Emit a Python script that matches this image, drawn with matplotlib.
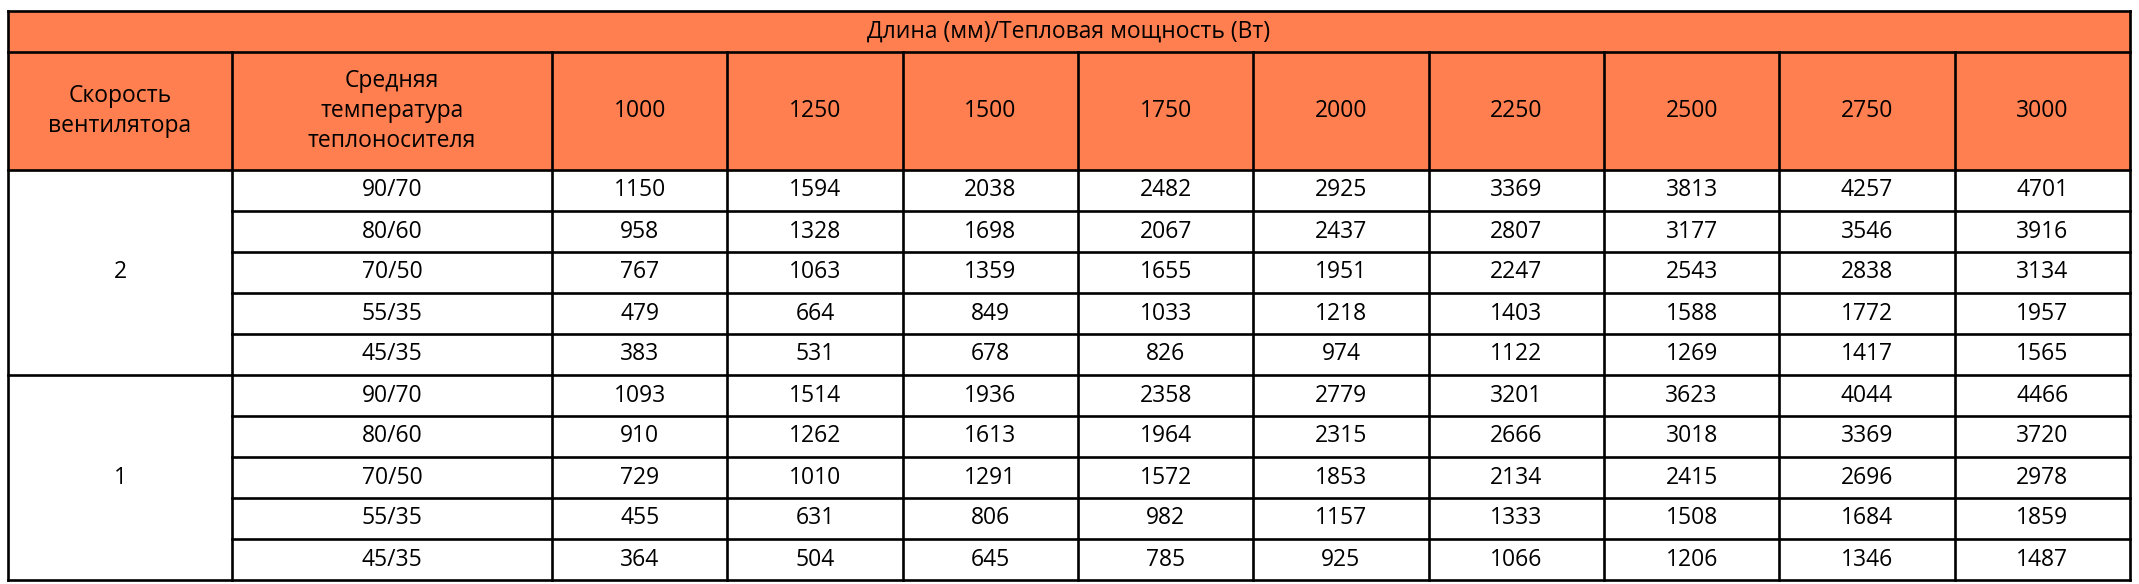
import matplotlib
matplotlib.use("Agg")
import matplotlib.pyplot as plt
from matplotlib.patches import Rectangle

title = "Длина (мм)/Тепловая мощность (Вт)"
col_head1 = "Скорость\nвентилятора"
col_head2 = "Средняя\nтемпература\nтеплоносителя"
lengths = ["1000", "1250", "1500", "1750", "2000", "2250", "2500", "2750", "3000"]
speeds = ["2", "1"]
temps = ["90/70", "80/60", "70/50", "55/35", "45/35"]
speed2 = [
    [1150, 1594, 2038, 2482, 2925, 3369, 3813, 4257, 4701],
    [958, 1328, 1698, 2067, 2437, 2807, 3177, 3546, 3916],
    [767, 1063, 1359, 1655, 1951, 2247, 2543, 2838, 3134],
    [479, 664, 849, 1033, 1218, 1403, 1588, 1772, 1957],
    [383, 531, 678, 826, 974, 1122, 1269, 1417, 1565],
]
speed1 = [
    [1093, 1514, 1936, 2358, 2779, 3201, 3623, 4044, 4466],
    [910, 1262, 1613, 1964, 2315, 2666, 3018, 3369, 3720],
    [729, 1010, 1291, 1572, 1853, 2134, 2415, 2696, 2978],
    [455, 631, 806, 982, 1157, 1333, 1508, 1684, 1859],
    [364, 504, 645, 785, 925, 1066, 1206, 1346, 1487],
]

W, H = 2139, 584
fig = plt.figure(figsize=(W / 100, H / 100), dpi=100)
ax = fig.add_axes([0, 0, 1, 1])
ax.set_xlim(0, W)
ax.set_ylim(H, 0)
ax.axis("off")

ORANGE = "#FF7F50"
FONT = ["Open Sans", "DejaVu Sans"]
FS = 16.5
LW = 1.9

x0, x1, x2, xr = 8, 232, 552, 2130
y0, y1, y2 = 11, 52, 170
rh = 41.0
cw = (xr - x2) / len(lengths)
yb = y2 + rh * 10

ax.add_patch(Rectangle((x0, y0), xr - x0, y2 - y0, color=ORANGE, zorder=0))

def t(x, y, s, **kw):
    ax.text(x, y, s, ha="center", va="center", fontsize=FS, family=FONT,
            linespacing=1.35, **kw)

def hline(y, a, b):
    ax.plot([a, b], [y, y], color="black", lw=LW, solid_capstyle="projecting")

def vline(x, a, b):
    ax.plot([x, x], [a, b], color="black", lw=LW, solid_capstyle="projecting")

hline(y0, x0, xr)
hline(y1, x0, xr)
hline(y2, x0, xr)
hline(yb, x0, xr)
vline(x0, y0, yb)
vline(xr, y0, yb)
vline(x1, y1, yb)
vline(x2, y1, yb)
for i in range(1, len(lengths)):
    vline(x2 + i * cw, y1, yb)
for r in range(1, 10):
    y = y2 + r * rh
    hline(y, x1 if r != 5 else x0, xr)

t((x0 + xr) / 2, (y0 + y1) / 2, title)
t((x0 + x1) / 2, (y1 + y2) / 2, col_head1)
t((x1 + x2) / 2, (y1 + y2) / 2, col_head2)
for i, L in enumerate(lengths):
    t(x2 + (i + 0.5) * cw, (y1 + y2) / 2, L)

for s, (sp, data) in enumerate(zip(speeds, [speed2, speed1])):
    top = y2 + s * 5 * rh
    t((x0 + x1) / 2, top + 2.5 * rh, sp)
    for r, (tp, row) in enumerate(zip(temps, data)):
        yc = top + (r + 0.5) * rh
        t((x1 + x2) / 2, yc, tp)
        for i, v in enumerate(row):
            t(x2 + (i + 0.5) * cw, yc, str(v))

fig.savefig("out.png", dpi=100, facecolor="white")
